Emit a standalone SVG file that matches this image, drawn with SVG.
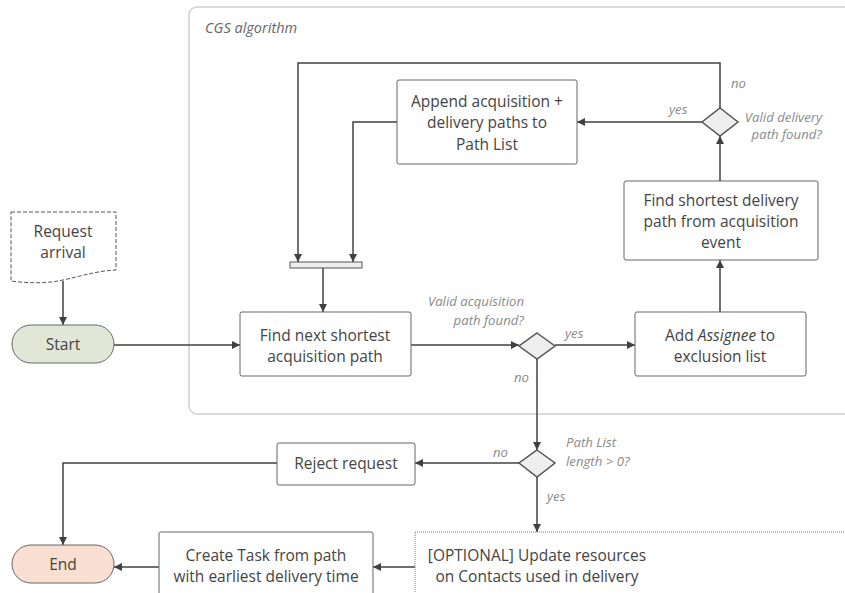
<svg xmlns="http://www.w3.org/2000/svg" width="845" height="593" viewBox="0 0 845 593">
<defs>
<marker id="arr" viewBox="0 0 10 10" refX="10" refY="5" markerWidth="8" markerHeight="8" markerUnits="userSpaceOnUse" orient="auto">
<path d="M0,0 L10,5 L0,10 Z" fill="#404040"/>
</marker>
</defs>
<style>
text{font-family:"Open Sans","Segoe UI","Liberation Sans",sans-serif;}
.box{fill:#fff;stroke:#666;stroke-width:1;}
.t{font-size:15.5px;fill:#444;text-anchor:middle;}
.lbl{font-size:13.2px;fill:#8a8a8a;font-style:italic;}
.dia{fill:#eee;stroke:#555;stroke-width:1.5;}
.c{fill:none;stroke:#404040;stroke-width:1.5;}
</style>
<rect width="845" height="593" fill="#fff"/>
<g id="cgs">
<rect x="189" y="7" width="680" height="407" rx="8" fill="none" stroke="#d0d0d0" stroke-width="1.5"/>
<text x="205" y="33" class="lbl" style="font-size:14.5px;fill:#666">CGS algorithm</text>
</g>
<g id="connectors">
<path class="c" d="M63,281 V325" marker-end="url(#arr)"/>
<path class="c" d="M114,345 H240" marker-end="url(#arr)"/>
<path class="c" d="M323,268 V312" marker-end="url(#arr)"/>
<path class="c" d="M720,108 V63 H298 V262" marker-end="url(#arr)"/>
<path class="c" d="M397,122 H353 V262" marker-end="url(#arr)"/>
<path class="c" d="M411,345 H519" marker-end="url(#arr)"/>
<path class="c" d="M555,345 H635" marker-end="url(#arr)"/>
<path class="c" d="M720,312 V260" marker-end="url(#arr)"/>
<path class="c" d="M720,181 V136" marker-end="url(#arr)"/>
<path class="c" d="M702,122 H577" marker-end="url(#arr)"/>
<path class="c" d="M537,359 V450" marker-end="url(#arr)"/>
<path class="c" d="M519,463 H415" marker-end="url(#arr)"/>
<path class="c" d="M277,463 H63 V545" marker-end="url(#arr)"/>
<path class="c" d="M537,477 V532" marker-end="url(#arr)"/>
<path class="c" d="M415,567 H373" marker-end="url(#arr)"/>
<path class="c" d="M159,567 H114" marker-end="url(#arr)"/>
<text class="lbl" x="524" y="306" text-anchor="end">Valid acquisition</text>
<text class="lbl" x="524" y="325" text-anchor="end">path found?</text>
<text class="lbl" x="565" y="338">yes</text>
<text class="lbl" x="514" y="382">no</text>
<text class="lbl" x="822" y="122" text-anchor="end">Valid delivery</text>
<text class="lbl" x="822" y="139" text-anchor="end">path found?</text>
<text class="lbl" x="669" y="114">yes</text>
<text class="lbl" x="731" y="88">no</text>
<text class="lbl" x="566" y="447">Path List</text>
<text class="lbl" x="566" y="466">length &gt; 0?</text>
<text class="lbl" x="493" y="457">no</text>
<text class="lbl" x="547" y="501">yes</text>
</g>
<g id="request">
<path d="M11,212 H116 V270 C96,271 82,276 63,280 C45,284 25,283 11,281 Z" fill="#fff" stroke="#555" stroke-width="1" stroke-dasharray="4,2"/>
<text class="t" x="63" y="237">Request</text>
<text class="t" x="63" y="258">arrival</text>
</g>
<g id="start">
<rect x="12" y="325" width="102" height="38" rx="19" fill="#e2e6d6" stroke="#666" stroke-width="1"/>
<text class="t" x="63" y="350">Start</text>
</g>
<g id="bar">
<rect x="290" y="262" width="72" height="6" fill="#eee" stroke="#555" stroke-width="1"/>
</g>
<g id="findnext">
<rect class="box" x="240" y="312" width="171" height="64" rx="2"/>
<text class="t" x="325" y="341">Find next shortest</text>
<text class="t" x="325" y="362">acquisition path</text>
</g>
<g id="append">
<rect class="box" x="397" y="80" width="180" height="84" rx="2"/>
<text class="t" x="487" y="107">Append acquisition +</text>
<text class="t" x="487" y="128">delivery paths to</text>
<text class="t" x="487" y="150">Path List</text>
</g>
<g id="dia-acq">
<path class="dia" d="M537,333 L555,346 L537,359 L519,346 Z"/>
</g>
<g id="add">
<rect class="box" x="635" y="312" width="171" height="64" rx="2"/>
<text class="t" x="720" y="341">Add <tspan font-style="italic">Assignee</tspan> to</text>
<text class="t" x="720" y="362">exclusion list</text>
</g>
<g id="finddelivery">
<rect class="box" x="624" y="181" width="194" height="79" rx="2"/>
<text class="t" x="721" y="206">Find shortest delivery</text>
<text class="t" x="721" y="227">path from acquisition</text>
<text class="t" x="721" y="248">event</text>
</g>
<g id="dia-del">
<path class="dia" d="M720,108 L738,122 L720,136 L702,122 Z"/>
</g>
<g id="dia-len">
<path class="dia" d="M537,450 L555,463 L537,477 L519,463 Z"/>
</g>
<g id="reject">
<rect class="box" x="277" y="443" width="138" height="42" rx="2"/>
<text class="t" x="346" y="469">Reject request</text>
</g>
<g id="end">
<rect x="12" y="545" width="102" height="38" rx="19" fill="#f9dfd2" stroke="#666" stroke-width="1"/>
<text class="t" x="63" y="570">End</text>
</g>
<g id="optional">
<rect x="415" y="532" width="440" height="70" fill="#fff" stroke="#777" stroke-width="1" stroke-dasharray="1,1"/>
<text class="t" x="537" y="561">[OPTIONAL] Update resources</text>
<text class="t" x="537" y="582">on Contacts used in delivery</text>
</g>
<g id="create">
<rect class="box" x="159" y="532" width="214" height="70" rx="2"/>
<text class="t" x="266" y="561">Create Task from path</text>
<text class="t" x="266" y="582">with earliest delivery time</text>
</g>
</svg>
